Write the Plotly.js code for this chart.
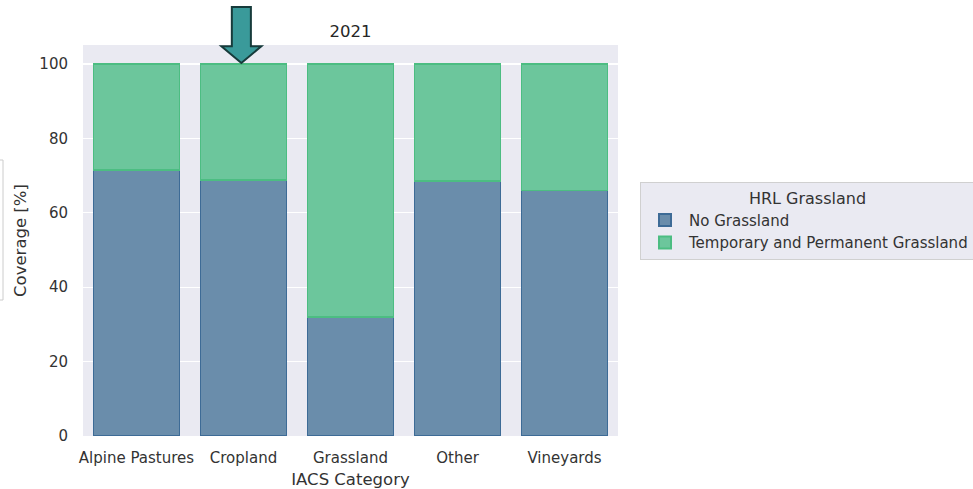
<!DOCTYPE html>
<html><head><meta charset="utf-8">
<script src="https://cdn.plot.ly/plotly-3.0.1.min.js"></script>
<style>html,body{margin:0;padding:0;background:#fff;}#chart{width:973px;height:489px;}</style>
</head><body><div id="chart"></div>
<script>
const categories = ["Alpine Pastures", "Cropland", "Grassland", "Other", "Vineyards"];
const noGrassland = [71.5, 68.8, 32.0, 68.5, 66.0];
const tempPermGrassland = [28.5, 31.2, 68.0, 31.5, 34.0];
const seriesNames = ["No Grassland", "Temporary and Permanent Grassland"];
const yTicks = [0, 20, 40, 60, 80, 100];
const highlighted = "Cropland";

const font = "DejaVu Sans, sans-serif";
const traces = [
  {type: "bar", x: categories, y: noGrassland, name: seriesNames[0],
   marker: {color: "rgba(106,141,171,1)", line: {color: "#3d6b96", width: 1.5}}},
  {type: "bar", x: categories, y: tempPermGrassland, name: seriesNames[1],
   marker: {color: "rgba(108,198,156,1)", line: {color: "#4cbd82", width: 1.5}}}
];

const idx = categories.indexOf(highlighted);
const cx = (idx + 0.5) / categories.length - 0.004;
const sw = 0.0178, hw = 0.0374;
const yTip = 0.954, yBase = 0.997, yTop = 1.097;
const arrowPath = `M ${cx-sw} ${yTop} L ${cx+sw} ${yTop} L ${cx+sw} ${yBase} L ${cx+hw} ${yBase} L ${cx} ${yTip} L ${cx-hw} ${yBase} L ${cx-sw} ${yBase} Z`;

const layout = {
  width: 973, height: 489,
  margin: {l: 83, r: 355, t: 45, b: 53, autoexpand: false},
  paper_bgcolor: "#ffffff", plot_bgcolor: "#eaeaf2",
  barmode: "stack", bargap: 0.2,
  font: {family: font, size: 15, color: "#333333"},
  title: {text: "2021", x: 0.5, xref: "paper", xanchor: "center", y: 1 - 31/489, yanchor: "middle",
          font: {family: font, size: 16.5, color: "#262626"}},
  xaxis: {type: "category", range: [-0.5, 4.5], showgrid: false, zeroline: false, showline: false,
          ticks: "", ticklabelstandoff: 11, tickfont: {size: 15, color: "#333"},
          title: {text: "IACS Category", font: {size: 16.5, color: "#333"}, standoff: 7}},
  yaxis: {range: [0, 105.1], tickvals: yTicks, showgrid: true, gridcolor: "#ffffff", gridwidth: 1.2,
          zeroline: false, showline: false, ticks: "", ticklabelstandoff: 14, tickfont: {size: 15, color: "#333"},
          title: {text: "Coverage [%]", font: {size: 16.5, color: "#333"}, standoff: 8}},
  legend: {x: (640-83)/535, xanchor: "left", y: (436-182)/391, yanchor: "top",
           bgcolor: "#eaeaf2", bordercolor: "#d0d0d0", borderwidth: 1,
           font: {size: 15, color: "#333"}, traceorder: "normal", itemsizing: "constant",
           itemwidth: 38, tracegroupgap: 0,
           title: {text: "HRL Grassland", side: "top center", font: {size: 16, color: "#333"}}},
  shapes: [
    {type: "path", xref: "paper", yref: "paper", path: arrowPath,
     fillcolor: "#3a9a9a", line: {color: "#173b3b", width: 2}},
    {type: "rect", xref: "paper", yref: "paper", x0: -0.2, x1: (3-83)/535,
     y0: (436-300)/391, y1: (436-160)/391, fillcolor: "#ffffff", line: {color: "#cccccc", width: 1}}
  ]
};
Plotly.newPlot("chart", traces, layout, {displayModeBar: false, staticPlot: true});
</script></body></html>
